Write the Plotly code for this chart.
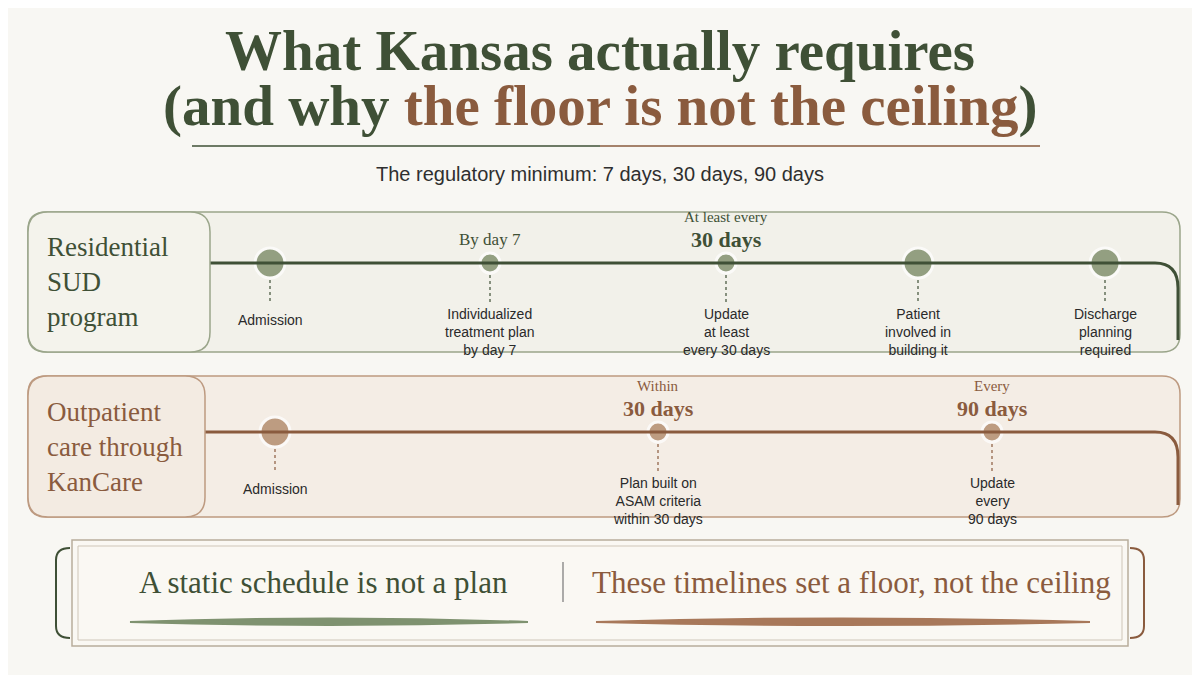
import plotly.graph_objects as go

GREEN = "#3f5036"
GREEN_DOT = "#6b7d55"
BROWN = "#8a5b3e"
BROWN_DOT = "#a77a58"
BG = "#f8f7f3"

title_1 = "What Kansas actually requires"
title_2a = "(and why "
title_2b = "the floor is not the ceiling"
subtitle = "The regulatory minimum: 7 days, 30 days, 90 days"

res_label = "Residential<br>SUD<br>program"
res_x = [270, 490, 726, 918, 1105]
res_big = [True, False, False, True, True]
res_top = ["", "By day 7", "At least every", "", ""]
res_top_big = ["", "", "30 days", "", ""]
res_text = ["Admission", "Individualized<br>treatment plan<br>by day 7", "Update<br>at least<br>every 30 days",
            "Patient<br>involved in<br>building it", "Discharge<br>planning<br>required"]

out_label = "Outpatient<br>care through<br>KanCare"
out_x = [275, 658, 992]
out_big = [True, False, False]
out_top = ["", "Within", "Every"]
out_top_big = ["", "30 days", "90 days"]
out_text = ["Admission", "Plan built on<br>ASAM criteria<br>within 30 days", "Update<br>every<br>90 days"]

footer_left = "A static schedule is not a plan"
footer_right = "These timelines set a floor, not the ceiling"

SERIF = "Liberation Serif"
SANS = "Liberation Sans"

fig = go.Figure()
shapes = []
ann = []


def rrect(x0, y0, x1, y1, r):
    return (f"M {x0+r},{y0} L {x1-r},{y0} Q {x1},{y0} {x1},{y0+r} L {x1},{y1-r} Q {x1},{y1} {x1-r},{y1} "
            f"L {x0+r},{y1} Q {x0},{y1} {x0},{y1-r} L {x0},{y0+r} Q {x0},{y0} {x0+r},{y0} Z")


def row(y0, y1, ly, label, xs, bigs, tops, topbig, texts, col, dot, fill, edge, labw, labfill):
    shapes.append(dict(type="path", path=rrect(28, y0, 1180, y1, 18), line=dict(color=edge, width=1.5),
                       fillcolor=fill, layer="below"))
    shapes.append(dict(type="path", path=f"M {labw},{ly} L 1155,{ly} Q 1178,{ly} 1178,{ly+25} L 1178,{y1-12}",
                       line=dict(color=col, width=3)))
    shapes.append(dict(type="path", path=rrect(28, y0, labw, y1, 20),
                       line=dict(color=edge, width=1.5), fillcolor=labfill))
    ann.append(dict(x=45, y=(y0 + y1) / 2, text=label, showarrow=False, xanchor="left",
                    font=dict(family=SERIF, size=27, color=col), align="left"))
    fig.add_trace(go.Scatter(x=xs, y=[ly] * len(xs), mode="markers",
                             marker=dict(size=[30 if b else 20 for b in bigs], color=dot,
                                         line=dict(color="white", width=3)), hoverinfo="skip"))
    for x, b, t, tb, tx in zip(xs, bigs, tops, topbig, texts):
        r = 15 if b else 10
        shapes.append(dict(type="line", x0=x, x1=x, y0=ly + r + 2, y1=ly + 40,
                           line=dict(color=col, width=1.2, dash="dot")))
        n = tx.count("<br>") + 1
        ann.append(dict(x=x, y=ly + 42 + n * 9 if n > 1 else ly + 57, text=tx, showarrow=False,
                        font=dict(family=SANS, size=14, color="#2a2a2a"), yanchor="middle"))
        if tb:
            ann.append(dict(x=x, y=ly - 24, text=f"<b>{tb}</b>", showarrow=False, yanchor="middle",
                            font=dict(family=SERIF, size=22, color=col)))
            ann.append(dict(x=x, y=ly - 46, text=t, showarrow=False, yanchor="middle",
                            font=dict(family=SERIF, size=15, color=col)))
        elif t:
            ann.append(dict(x=x, y=ly - 24, text=t, showarrow=False, yanchor="middle",
                            font=dict(family=SERIF, size=17, color=col)))


row(212, 352, 263, res_label, res_x, res_big, res_top, res_top_big, res_text,
    GREEN, GREEN_DOT, "#f2f1ea", "#9aa58a", 210, "#f4f3ec")
row(376, 517, 432, out_label, out_x, out_big, out_top, out_top_big, out_text,
    BROWN, BROWN_DOT, "#f4ede5", "#bd9a80", 205, "#f3ebe2")

# title
ann.append(dict(x=600, y=50, text=f"<b>{title_1}</b>", showarrow=False, yanchor="middle",
                font=dict(family=SERIF, size=57, color=GREEN)))
ann.append(dict(x=600, y=106, text=f"<b>{title_2a}<span style='color:{BROWN}'>{title_2b}</span>)</b>",
                showarrow=False, yanchor="middle", font=dict(family=SERIF, size=57, color=GREEN)))
shapes.append(dict(type="line", x0=192, x1=600, y0=146, y1=146, line=dict(color=GREEN, width=1.5)))
shapes.append(dict(type="line", x0=600, x1=1040, y0=146, y1=146, line=dict(color=BROWN, width=1.5)))
ann.append(dict(x=600, y=174, text=subtitle, showarrow=False, yanchor="middle",
                font=dict(family=SANS, size=20, color="#2f2f2f")))

# footer
shapes.append(dict(type="rect", x0=72, x1=1128, y0=540, y1=646, line=dict(color="#b8ad9c", width=1.5),
                   fillcolor="#faf8f3"))
shapes.append(dict(type="rect", x0=78, x1=1122, y0=546, y1=640, line=dict(color="#cfc6b8", width=1)))
shapes.append(dict(type="path", path="M 70,548 Q 56,548 56,560 L 56,626 Q 56,638 70,638",
                   line=dict(color=GREEN, width=2)))
shapes.append(dict(type="path", path="M 1130,548 Q 1144,548 1144,560 L 1144,626 Q 1144,638 1130,638",
                   line=dict(color=BROWN, width=2)))
shapes.append(dict(type="line", x0=563, x1=563, y0=562, y1=602, line=dict(color="#777", width=1.2)))
ann.append(dict(x=323, y=582, text=footer_left, showarrow=False, yanchor="middle",
                font=dict(family=SERIF, size=31, color=GREEN)))
ann.append(dict(x=851, y=582, text=footer_right, showarrow=False, yanchor="middle",
                font=dict(family=SERIF, size=31, color=BROWN)))
shapes.append(dict(type="path", path="M 130,622 Q 330,615 528,622 Q 330,628 130,622 Z",
                   line=dict(color="#7f9270", width=2), fillcolor="#7f9270"))
shapes.append(dict(type="path", path="M 596,622 Q 840,615 1090,622 Q 840,628 596,622 Z",
                   line=dict(color="#a8785a", width=2), fillcolor="#a8785a"))

# page body has an 8px margin, so shift the ranges to line up with screen pixels
fig.update_layout(width=1200, height=675, margin=dict(l=0, r=0, t=0, b=0),
                  paper_bgcolor=BG, plot_bgcolor=BG, showlegend=False,
                  shapes=shapes, annotations=[dict(a, xref="x", yref="y") for a in ann],
                  xaxis=dict(range=[8, 1208], visible=False, fixedrange=True),
                  yaxis=dict(range=[683, 8], visible=False, fixedrange=True))
fig.write_html("out.html")
